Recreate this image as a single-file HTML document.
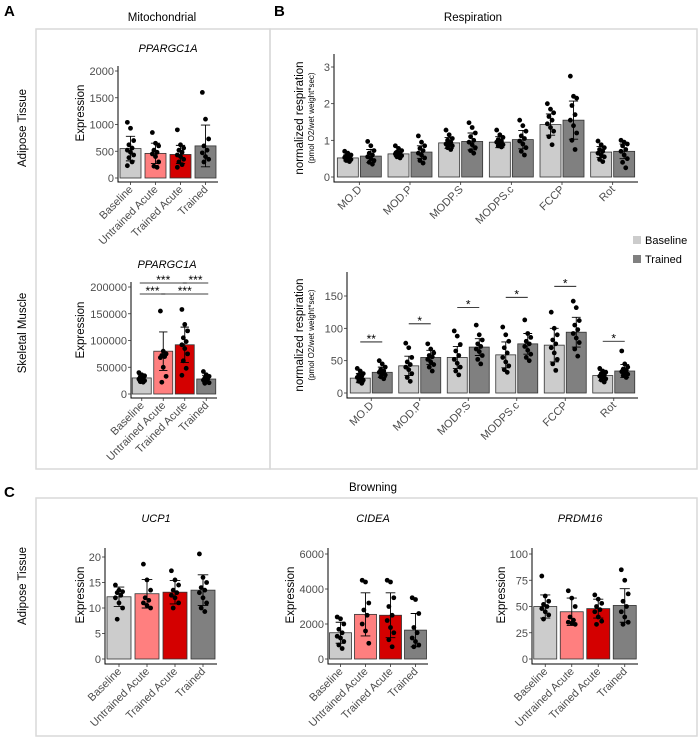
<!DOCTYPE html>
<html><head><meta charset="utf-8">
<style>
html,body{margin:0;padding:0;background:#fff}
svg{display:block;font-family:"Liberation Sans",sans-serif}
.tick{font-size:11px;fill:#4d4d4d}
.ttl{font-size:11.5px;fill:#000}
</style></head>
<body>
<svg id="fig" width="698" height="737" viewBox="0 0 698 737">
<g>
<rect x="36" y="29" width="234" height="440" fill="none" stroke="#d9d9d9" stroke-width="1.5"/>
<rect x="270" y="29" width="427" height="440" fill="none" stroke="#d9d9d9" stroke-width="1.5"/>
<rect x="36" y="498" width="661" height="238" fill="none" stroke="#d9d9d9" stroke-width="1.5"/>
</g>
<text x="4" y="16" font-size="15" font-weight="bold">A</text>
<text x="274" y="16" font-size="15" font-weight="bold">B</text>
<text x="4" y="497" font-size="15" font-weight="bold">C</text>
<text x="162" y="21" class="ttl" text-anchor="middle">Mitochondrial</text>
<text x="473" y="21" class="ttl" text-anchor="middle">Respiration</text>
<text x="373" y="491" class="ttl" text-anchor="middle">Browning</text>
<text transform="translate(26,128) rotate(-90)" class="ttl" text-anchor="middle">Adipose Tissue</text>
<text transform="translate(26,333) rotate(-90)" class="ttl" text-anchor="middle">Skeletal Muscle</text>
<text transform="translate(26,586) rotate(-90)" class="ttl" text-anchor="middle">Adipose Tissue</text>
<text x="168" y="52" font-size="11" font-style="italic" text-anchor="middle">PPARGC1A</text>
<text x="167" y="268" font-size="11" font-style="italic" text-anchor="middle">PPARGC1A</text>
<text x="156" y="522" font-size="11" font-style="italic" text-anchor="middle">UCP1</text>
<text x="373" y="522" font-size="11" font-style="italic" text-anchor="middle">CIDEA</text>
<text x="580" y="522" font-size="11" font-style="italic" text-anchor="middle">PRDM16</text>
<g>
<rect x="633" y="236" width="8" height="8" fill="#cccccc"/>
<text x="645" y="244" font-size="11">Baseline</text>
<rect x="633" y="255" width="8" height="8" fill="#808080"/>
<text x="645" y="263" font-size="11">Trained</text>
</g>
</svg>
<script>
const aCats=["Baseline","Untrained Acute","Trained Acute","Trained"];
const aColors=["#cccccc","#ff7f7f","#d40000","#808080"];
const aTopTicks=[0,500,1000,1500,2000];
const aTopMeans=[550,460,440,600];
const aTopErr=[230,190,170,390];
const aTopPts=[[1040,930,700,620,560,520,480,430,380,300,230],[850,650,600,520,480,450,400,300,220,200],[900,620,560,520,480,430,400,350,300,250,200],[1600,1100,730,600,520,470,400,350,300]];
const aBotTicks=[0,50000,100000,150000,200000];
const aBotMeans=[30000,80000,92000,28000];
const aBotErr=[6000,36000,33000,7000];
const aBotPts=[[40000,36000,34000,32000,30000,28000,27000,25000,23000,22000],[155000,80000,75000,72000,70000,68000,50000,33000,22000],[158000,130000,118000,105000,98000,92000,85000,75000,62000,48000,35000],[42000,36000,33000,30000,28000,26000,24000,21000,20000]];
const aBotSig=[[0,2,"***",1],[2,3,"***",1],[0,1,"***",0],[1,3,"***",0]];

const bCats=["MO.D","MOD.P","MODP.S","MODPS.c","FCCP","Rot"];
const bTopTicks=[0,1,2,3];
const bTopBase=[0.52,0.63,0.93,0.95,1.43,0.68];
const bTopTrained=[0.57,0.68,0.97,1.02,1.55,0.70];
const bTopBaseErr=[0.08,0.07,0.15,0.15,0.29,0.15];
const bTopTrainedErr=[0.18,0.17,0.23,0.25,0.52,0.2];
const bTopBasePts=[[.7,.65,.6,.58,.55,.53,.5,.48,.45,.42],[.85,.78,.72,.68,.65,.63,.6,.58,.55,.52],[1.28,1.15,1.05,1.0,.95,.9,.88,.85,.8,.75],[1.28,1.15,1.08,1.02,.98,.95,.92,.88,.85,.82],[2.0,1.85,1.75,1.65,1.55,1.45,1.35,1.25,1.1,.88],[.98,.88,.8,.75,.7,.65,.6,.55,.48,.42]];
const bTopTrainedPts=[[.97,.85,.72,.65,.6,.55,.5,.45,.4,.35],[1.12,.95,.85,.78,.72,.65,.6,.52,.45,.38],[1.48,1.35,1.2,1.1,1.0,.95,.88,.8,.72,.65],[1.55,1.4,1.25,1.12,1.05,.98,.9,.8,.7,.6],[2.75,2.2,2.15,1.95,1.7,1.55,1.4,1.2,1.0,.75],[1.0,.95,.9,.85,.75,.7,.6,.5,.4,.25]];
const bBotTicks=[0,50,100,150];
const bBotBase=[23,42,55,59,74,27];
const bBotTrained=[32,55,71,76,94,34];
const bBotBaseErr=[7,15,17,20,26,8];
const bBotTrainedErr=[8,11,13,16,23,10];
const bBotBasePts=[[38,34,30,28,26,24,22,20,18,15],[77,70,55,48,44,40,36,30,24,18],[96,88,75,65,58,52,46,40,34,28],[102,90,80,70,62,55,48,42,36,32],[125,100,90,82,76,70,62,52,45,35],[38,34,32,30,28,26,24,22,20,17]];
const bBotTrainedPts=[[50,45,40,36,34,32,30,28,25,22],[76,68,62,58,56,52,48,44,40,34],[105,90,82,76,72,68,64,58,52,45],[113,92,86,80,76,72,66,60,55,50],[142,132,112,105,98,92,85,78,68,57],[65,45,40,37,35,33,31,29,27,24]];
const bBotSigY=[79,107,132,148,165,80];
const bBotSigLabels=["**","*","*","*","*","*"];

const ucpTicks=[0,5,10,15,20];
const ucpMeans=[12.2,12.8,13.1,13.5];
const ucpErr=[1.9,2.8,2.3,3.0];
const ucpPts=[[14.5,13.5,13.2,13,12.5,12,11,10,7.8],[18.6,15.5,13.5,12,11.5,11,10.5,10],[17.3,15.5,14.5,13.5,13,12.5,12,11,10],[20.6,16,15,14,13.5,13,12,11,10,9.3]];
const cideaTicks=[0,2000,4000,6000];
const cideaMeans=[1500,2550,2500,1650];
const cideaErr=[600,1230,1280,950];
const cideaPts=[[2400,2300,2000,1700,1500,1300,1200,1000,800,600],[4500,4400,3200,2800,2500,2000,1600,900],[4500,4400,3500,3000,2500,2200,1800,1500,1100,700],[3500,3400,2600,1800,1500,1200,1000,800,700]];
const prdmTicks=[0,25,50,75,100];
const prdmMeans=[50,45,48,51];
const prdmErr=[11,13,9,16];
const prdmPts=[[79,60,55,52,50,48,45,42,38],[65,58,50,40,37,35,34,33],[61,57,53,50,47,45,40,36,33],[85,75,62,55,50,45,40,35,33]];

const NS="http://www.w3.org/2000/svg";
const fig=document.getElementById("fig");
function mk(tag,attrs,parent){const e=document.createElementNS(NS,tag);for(const k in attrs)e.setAttribute(k,attrs[k]);(parent||fig).appendChild(e);return e;}

function chart(c){
  const g=mk("g",{});
  
  
  const maxT=c.ticks[c.ticks.length-1];
  const y=v=>c.yZero-v*(c.yZero-c.yTop)/maxT;
  const band=(c.x1-c.x0)/c.cats.length;
  const ns=c.series.length;
  const bw=c.barW;
  const cx=(gi,si)=>c.x0+band*(gi+0.5)+(ns===1?0:(si-(ns-1)/2)*(bw+2));
  c.series.forEach((s,si)=>{
    s.means.forEach((m,gi)=>{
      const x=cx(gi,si);
      const r=mk("rect",{x:x-bw/2,y:y(m),width:bw,height:y(0)-y(m),fill:s.color(gi),stroke:"#333",
        "stroke-width":0.8},g);
      
      
    });
  });
  c.series.forEach((s,si)=>{
    s.pts.forEach((arr,gi)=>{
      const x=cx(gi,si);
      arr.forEach((v,i)=>{
        const off=(((i*7)%5)-2)/2*bw*0.15;
        const p=mk("circle",{cx:x+off,cy:y(v),r:2.4,fill:"#000"},g);
        
        
      });
    });
  });
  c.series.forEach((s,si)=>{
    s.means.forEach((m,gi)=>{
      const x=cx(gi,si),e=s.errs[gi],cw=bw*0.22;
      const eb=mk("path",{d:`M${x},${y(m-e)}V${y(m+e)}M${x-cw},${y(m+e)}H${x+cw}M${x-cw},${y(m-e)}H${x+cw}`,stroke:"#000","stroke-width":0.9,fill:"none"},g);
      
      
    });
  });
  const ax=mk("path",{d:`M${c.x0},${c.axTop}V${c.axY}H${c.x1}`,stroke:"#000","stroke-width":1,fill:"none"},g);
  
  
  c.ticks.forEach(t=>{
    mk("line",{x1:c.x0-3,x2:c.x0,y1:y(t),y2:y(t),stroke:"#333","stroke-width":0.8},g);
    const tl=mk("text",{x:c.x0-4,y:y(t)+4,"text-anchor":"end",class:"tick"},g);
    tl.textContent=t;
    
    
  });
  c.cats.forEach((cat,gi)=>{
    const x=c.x0+band*(gi+0.5);
    mk("line",{x1:x,x2:x,y1:c.axY,y2:c.axY+3,stroke:"#333","stroke-width":0.8},g);
    const tl=mk("text",{transform:`translate(${x+3},${c.axY+8}) rotate(-45)`,"text-anchor":"end",class:"tick"},g);
    tl.textContent=cat;
    
    
  });
  if(c.title2){
    const t1=mk("text",{transform:`translate(303,${c.titleY}) rotate(-90)`,"text-anchor":"middle",class:"ttl"},g);
    t1.textContent=c.title;
    
    
    const t2=mk("text",{transform:`translate(314,${c.titleY}) rotate(-90)`,"text-anchor":"middle","font-size":"8"},g);
    t2.textContent=c.title2;
    
    
  } else {
    const t1=mk("text",{transform:`translate(${c.titleX},${c.titleY}) rotate(-90)`,"text-anchor":"middle",class:"ttl"},g);
    t1.textContent=c.title;
    
    
  }
  c.y=y;c.cx=cx;c.band=band;c.g=g;
  return c;
}
const one=(m,e,p)=>[{means:m,errs:e,pts:p,color:i=>aColors[i],label:"x"}];

chart({name:"ppargc1a-adipose-chart",cats:aCats,ticks:aTopTicks,x0:118,x1:218,yTop:71,yZero:178,axTop:66,axY:182,barW:21,
  series:one(aTopMeans,aTopErr,aTopPts),title:"Expression",titleX:84,titleY:113});
const am=chart({name:"ppargc1a-muscle-chart",cats:aCats,ticks:aBotTicks,x0:131,x1:217,yTop:287,yZero:394,axTop:282,axY:398,barW:19,
  series:one(aBotMeans,aBotErr,aBotPts),title:"Expression",titleX:84,titleY:330});
aBotSig.forEach(s=>{
  const ly=s[3]?283:294;
  const x1=am.cx(s[0],0)-2,x2=am.cx(s[1],0)+2;
  const l=mk("line",{x1:x1,x2:x2,y1:ly,y2:ly,stroke:"#000","stroke-width":0.8});
  
  
  const t=mk("text",{x:(x1+x2)/2,y:ly+1,"text-anchor":"middle","font-size":"12"});
  t.textContent=s[2];
  
  
});

const two=(mb,mt,eb,et,pb,pt)=>[{means:mb,errs:eb,pts:pb,color:()=>"#cccccc",label:"baseline"},{means:mt,errs:et,pts:pt,color:()=>"#808080",label:"trained"}];
chart({name:"respiration-normalized-chart",cats:bCats,ticks:bTopTicks,x0:334,x1:638,yTop:67,yZero:177,axTop:54,axY:182,barW:21,
  series:two(bTopBase,bTopTrained,bTopBaseErr,bTopTrainedErr,bTopBasePts,bTopTrainedPts),title:"normalized respiration",title2:"(pmol O2/wet weight*sec)",titleY:118});
const bb=chart({name:"respiration-absolute-chart",cats:bCats,ticks:bBotTicks,x0:347,x1:638,yTop:296,yZero:393,axTop:272,axY:398,barW:20,
  series:two(bBotBase,bBotTrained,bBotBaseErr,bBotTrainedErr,bBotBasePts,bBotTrainedPts),title:"normalized respiration",title2:"(pmol O2/wet weight*sec)",titleY:335});
bBotSigY.forEach((v,gi)=>{
  const ly=bb.y(v),x1=bb.cx(gi,0),x2=bb.cx(gi,1);
  const l=mk("line",{x1:x1,x2:x2,y1:ly,y2:ly,stroke:"#000","stroke-width":0.8});
  
  
  const t=mk("text",{x:(x1+x2)/2,y:ly+1,"text-anchor":"middle","font-size":"12"});
  t.textContent=bBotSigLabels[gi];
  
  
});

chart({name:"ucp1-chart",cats:aCats,ticks:ucpTicks,x0:105,x1:217,yTop:557,yZero:659,axTop:548,axY:664,barW:24,
  series:one(ucpMeans,ucpErr,ucpPts),title:"Expression",titleX:84,titleY:595});
chart({name:"cidea-chart",cats:aCats,ticks:cideaTicks,x0:328,x1:428,yTop:554,yZero:659,axTop:548,axY:664,barW:22,
  series:one(cideaMeans,cideaErr,cideaPts),title:"Expression",titleX:294,titleY:595});
chart({name:"prdm16-chart",cats:aCats,ticks:prdmTicks,x0:532,x1:638,yTop:554,yZero:659,axTop:548,axY:664,barW:23,
  series:one(prdmMeans,prdmErr,prdmPts),title:"Expression",titleX:505,titleY:595});
</script>
</body></html>
